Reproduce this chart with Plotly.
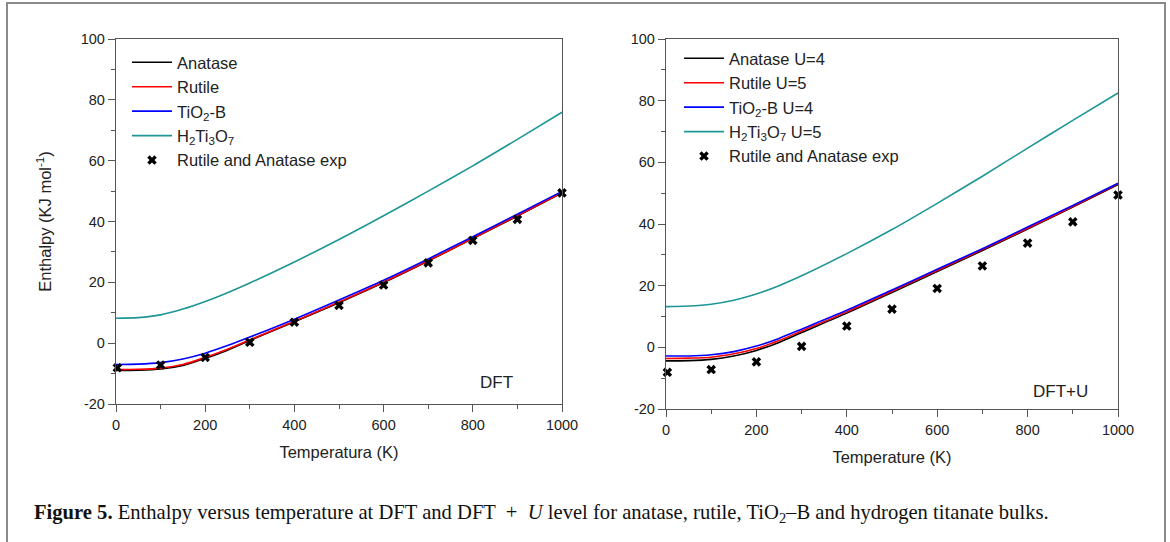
import plotly.graph_objects as go

# ---------------- data ----------------
T = [0, 50, 100, 150, 200, 250, 300, 400, 500, 600, 700, 800, 900, 1000]

# DFT panel
dft_anatase = [-9.0, -8.9, -8.5, -7.3, -5.0, -2.3, 0.9, 7.0, 13.3, 19.9, 27.0, 34.4, 41.8, 49.4]
dft_rutile = [-8.7, -8.6, -8.2, -7.0, -4.7, -2.0, 1.1, 7.2, 13.5, 20.1, 27.1, 34.5, 41.9, 49.5]
dft_tio2b = [-7.0, -6.9, -6.4, -5.2, -3.3, -0.8, 2.0, 7.9, 14.2, 20.7, 27.7, 35.0, 42.4, 49.9]
dft_h2ti3o7 = [8.2, 8.4, 9.3, 11.2, 13.7, 16.6, 19.8, 26.7, 34.1, 41.9, 50.0, 58.3, 67.0, 75.9]

# DFT+U panel
u_anatase = [-4.4, -4.3, -3.9, -2.8, -1.0, 1.6, 4.8, 11.1, 17.8, 24.6, 31.4, 38.4, 45.5, 52.8]
u_rutile = [-3.6, -3.5, -3.2, -2.1, -0.4, 2.2, 5.3, 11.5, 18.2, 24.9, 31.7, 38.6, 45.7, 53.0]
u_tio2b = [-2.8, -2.8, -2.4, -1.4, 0.4, 2.9, 5.9, 12.0, 18.6, 25.3, 32.0, 39.0, 46.0, 53.2]
u_h2ti3o7 = [13.2, 13.4, 14.0, 15.3, 17.3, 20.0, 23.2, 30.4, 38.2, 46.7, 55.5, 64.6, 73.6, 82.5]

# experimental (rutile and anatase)
T_exp = [3, 100, 200, 300, 400, 500, 600, 700, 800, 900, 1000]
H_exp = [-8.1, -7.2, -4.7, 0.3, 6.9, 12.4, 19.1, 26.4, 33.8, 40.7, 49.4]

x_ticks = [0, 200, 400, 600, 800, 1000]
x_ticktext = ["0", "200", "400", "600", "800", "1000"]
x_minor = [100, 300, 500, 700, 900]
y_ticks = [-20, 0, 20, 40, 60, 80, 100]
y_ticktext = ["-20", "0", "20", "40", "60", "80", "100"]
y_minor = [-10, 10, 30, 50, 70, 90]

left_names = ["Anatase", "Rutile", "TiO<sub>2</sub>-B", "H<sub>2</sub>Ti<sub>3</sub>O<sub>7</sub>"]
right_names = ["Anatase U=4", "Rutile U=5", "TiO<sub>2</sub>-B U=4", "H<sub>2</sub>Ti<sub>3</sub>O<sub>7</sub> U=5"]
exp_name = "Rutile and Anatase exp"
colors = ["#000000", "#ff0000", "#0000ff", "#1e9696"]

W, H = 1170, 542
SANS = "Liberation Sans, Arial, sans-serif"
SERIF = "Liberation Serif, Times New Roman, serif"

fig = go.Figure()

left_series = [dft_anatase, dft_rutile, dft_tio2b, dft_h2ti3o7]
right_series = [u_anatase, u_rutile, u_tio2b, u_h2ti3o7]

for ys, name, c in zip(left_series, left_names, colors):
    fig.add_trace(go.Scatter(x=T, y=ys, name=name, mode="lines",
                             line=dict(color=c, width=1.6, shape="spline", smoothing=0.8),
                             xaxis="x", yaxis="y", legend="legend"))
fig.add_trace(go.Scatter(x=T_exp, y=H_exp, name=exp_name, mode="markers",
                         marker=dict(symbol="x", size=8.5, color="black", line=dict(width=0)),
                         cliponaxis=False, xaxis="x", yaxis="y", legend="legend"))

for ys, name, c in zip(right_series, right_names, colors):
    fig.add_trace(go.Scatter(x=T, y=ys, name=name, mode="lines",
                             line=dict(color=c, width=1.6, shape="spline", smoothing=0.8),
                             xaxis="x2", yaxis="y2", legend="legend2"))
fig.add_trace(go.Scatter(x=T_exp, y=H_exp, name=exp_name, mode="markers",
                         marker=dict(symbol="x", size=8.5, color="black", line=dict(width=0)),
                         cliponaxis=False, xaxis="x2", yaxis="y2", legend="legend2"))

axcol = "#555555"
tickfont = dict(family=SANS, size=14.5, color="#222222")


def xstyle(domain, anchor, title, standoff):
    return dict(domain=domain, anchor=anchor, range=[0, 1000], showgrid=False, zeroline=False,
                showline=True, linecolor=axcol, linewidth=1.4, mirror=True,
                ticks="outside", ticklen=7, tickwidth=1.2, tickcolor=axcol,
                tickmode="array", tickvals=x_ticks, ticktext=x_ticktext, tickfont=tickfont,
                minor=dict(tickmode="array", tickvals=x_minor, ticks="outside", ticklen=4,
                           tickwidth=1.2, tickcolor=axcol),
                title=dict(text=title, font=dict(family=SANS, size=16.5, color="#222222"),
                           standoff=standoff),
                automargin=False)


def ystyle(domain, anchor, title):
    return dict(domain=domain, anchor=anchor, range=[-20, 100], showgrid=False, zeroline=False,
                showline=True, linecolor=axcol, linewidth=1.4, mirror=True,
                ticks="outside", ticklen=7, tickwidth=1.2, tickcolor=axcol,
                tickmode="array", tickvals=y_ticks, ticktext=y_ticktext, tickfont=tickfont,
                minor=dict(tickmode="array", tickvals=y_minor, ticks="outside", ticklen=4,
                           tickwidth=1.2, tickcolor=axcol),
                title=dict(text=title, font=dict(family=SANS, size=16.5, color="#222222"),
                           standoff=24),
                automargin=False)


fig.update_layout(
    width=W, height=H,
    margin=dict(l=0, r=0, t=0, b=0),
    paper_bgcolor="white", plot_bgcolor="white",
    showlegend=True,
    xaxis=xstyle([116 / W, 562 / W], "y", "Temperatura (K)", 14),
    yaxis=ystyle([1 - 404 / H, 1 - 39 / H], "x", "Enthalpy (KJ mol<sup>-1</sup>)"),
    xaxis2=xstyle([666 / W, 1118 / W], "y2", "Temperature (K)", 14),
    yaxis2=ystyle([1 - 409 / H, 1 - 39 / H], "x2", ""),
    legend=dict(x=127 / W, y=1 - 45 / H, xanchor="left", yanchor="top",
                bgcolor="rgba(0,0,0,0)", font=dict(family=SANS, size=16.5, color="#222222"),
                tracegroupgap=0, itemwidth=40),
    legend2=dict(x=679 / W, y=1 - 41 / H, xanchor="left", yanchor="top",
                 bgcolor="rgba(0,0,0,0)", font=dict(family=SANS, size=16.5, color="#222222"),
                 tracegroupgap=0, itemwidth=40),
    annotations=[
        dict(text="DFT", xref="x", yref="y", x=854, y=-12.8, showarrow=False,
             font=dict(family=SANS, size=17, color="#222222")),
        dict(text="DFT+U", xref="x2", yref="y2", x=872, y=-14.2, showarrow=False,
             font=dict(family=SANS, size=17, color="#222222")),
        dict(text="<b>Figure 5.</b> Enthalpy versus temperature at DFT and DFT  +  <i>U</i> level for "
                  "anatase, rutile, TiO<sub>2</sub>–B and hydrogen titanate bulks.",
             xref="paper", yref="paper", x=32 / W, y=1 - 513 / H, xanchor="left", yanchor="middle",
             showarrow=False, font=dict(family=SERIF, size=20.6, color="#111111")),
    ],
    shapes=[
        dict(type="rect", xref="paper", yref="paper", x0=7 / W, x1=1165 / W, y0=-0.02, y1=1 - 3 / H,
             line=dict(color="#8a8a8a", width=2), fillcolor="rgba(0,0,0,0)", layer="below"),
    ],
)

fig.write_html("out.html")
